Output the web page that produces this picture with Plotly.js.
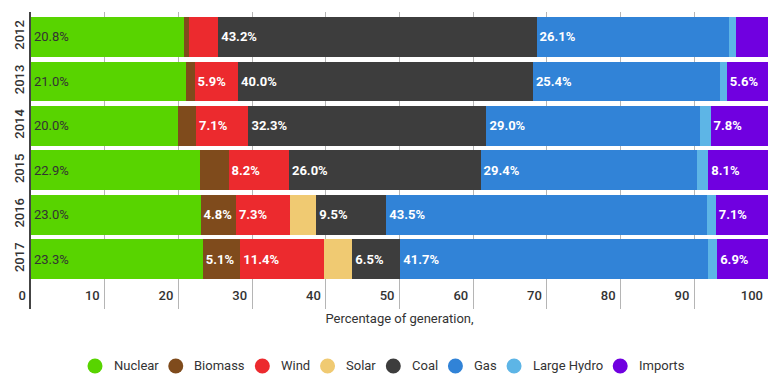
<!DOCTYPE html>
<html>
<head>
<meta charset="utf-8">
<script src="https://cdn.plot.ly/plotly-3.0.1.min.js"></script>
<style>html,body{margin:0;padding:0;background:#fff;}#chart{width:784px;height:387px;}</style>
</head>
<body>
<div id="chart"></div>
<script>
var years = ['2012', '2013', '2014', '2015', '2016', '2017'];
var nuclear = [20.8, 21.0, 20.0, 22.9, 23.0, 23.3];
var biomass = [0.6, 1.2, 2.4, 3.9, 4.8, 5.1];
var wind = [4.0, 5.9, 7.1, 8.2, 7.3, 11.4];
var solar = [0, 0, 0, 0, 3.6, 3.8];
var coal = [43.2, 40.0, 32.3, 26.0, 9.5, 6.5];
var gas = [26.1, 25.4, 29.0, 29.4, 43.5, 41.7];
var largeHydro = [1.0, 0.9, 1.4, 1.5, 1.2, 1.3];
var imports = [4.3, 5.6, 7.8, 8.1, 7.1, 6.9];

var seriesNames = ['Nuclear', 'Biomass', 'Wind', 'Solar', 'Coal', 'Gas', 'Large Hydro', 'Imports'];
var seriesValues = [nuclear, biomass, wind, solar, coal, gas, largeHydro, imports];
var seriesColors = ['#58d400', '#7f4b1c', '#ec2a2e', '#f0ca72', '#3d3d3d', '#3183d7', '#5db5e6', '#7000e0'];

function labels(vals) {
  return vals.map(function (v) { return v >= 4.5 ? v.toFixed(1) + '%' : ''; });
}

var traces = [];
seriesNames.forEach(function (name, i) {
  var isNuclear = i === 0;
  traces.push({
    type: 'bar',
    orientation: 'h',
    name: name,
    x: seriesValues[i],
    y: years,
    marker: {color: seriesColors[i], line: {width: 0}},
    text: labels(seriesValues[i]),
    textposition: 'inside',
    insidetextanchor: 'start',
    textangle: 0,
    constraintext: 'none',
    textfont: {
      family: 'Roboto, sans-serif',
      size: 13,
      color: isNuclear ? '#333333' : '#ffffff',
      weight: isNuclear ? 'normal' : 'bold'
    },
    hoverinfo: 'x+name',
    showlegend: false
  });
});

// Custom legend (circles + text) laid out like the reference
var W = 784, H = 387;
var M = {l: 31, r: 16, t: 12, b: 78};
var plotW = W - M.l - M.r, plotH = H - M.t - M.b;
var legendStartPx = 87.5, legendYPx = 366, circleR = 7.5;
var ctx = document.createElement('canvas').getContext('2d');
ctx.font = '13px Roboto';
var shapes = [], annotations = [];
var cx = legendStartPx + circleR;
var legY = (H - M.b - legendYPx) / plotH;
seriesNames.forEach(function (name, i) {
  var xp = (cx - M.l) / plotW;
  shapes.push({
    type: 'circle', xref: 'paper', yref: 'paper',
    xsizemode: 'pixel', ysizemode: 'pixel',
    xanchor: xp, yanchor: legY,
    x0: -circleR, x1: circleR, y0: -circleR, y1: circleR,
    fillcolor: seriesColors[i], line: {width: 0}
  });
  var tx = cx + 17.5;
  annotations.push({
    text: name, xref: 'paper', yref: 'paper',
    x: (tx - M.l) / plotW, y: legY,
    xanchor: 'left', yanchor: 'middle', showarrow: false,
    font: {family: 'Roboto, sans-serif', size: 13, color: '#333333'},
    borderpad: 0
  });
  var tw = ctx.measureText(name).width;
  cx = tx + tw + 18.5;
});

var layout = {
  width: W,
  height: H,
  margin: M,
  paper_bgcolor: '#ffffff',
  plot_bgcolor: '#ffffff',
  barmode: 'stack',
  bargap: 0.107,
  font: {family: 'Roboto, sans-serif', size: 13, color: '#333333'},
  xaxis: {
    range: [0, 100],
    tick0: 0,
    dtick: 10,
    showgrid: true,
    gridcolor: '#b5b5b5',
    gridwidth: 1,
    zeroline: false,
    showline: false,
    ticks: '',
    ticklabelposition: 'inside left',
    ticklabeloverflow: 'allow',
    ticklabelshift: -5,
    tickfont: {family: 'Roboto, sans-serif', size: 13, color: '#333333', weight: 500},
    title: {text: 'Percentage of generation,', font: {family: 'Roboto, sans-serif', size: 13, color: '#333333'}, standoff: 11},
    fixedrange: true
  },
  yaxis: {
    type: 'category',
    categoryorder: 'array',
    categoryarray: years,
    range: [6.12, -0.56],
    tickangle: -90,
    tickfont: {family: 'Roboto, sans-serif', size: 13, color: '#333333', weight: 500},
    showline: true,
    linecolor: '#444444',
    linewidth: 2,
    ticks: '',
    showgrid: false,
    zeroline: false,
    fixedrange: true
  },
  shapes: shapes,
  annotations: annotations,
  showlegend: false
};

Plotly.newPlot('chart', traces, layout, {displayModeBar: false, staticPlot: true});
</script>
</body>
</html>
